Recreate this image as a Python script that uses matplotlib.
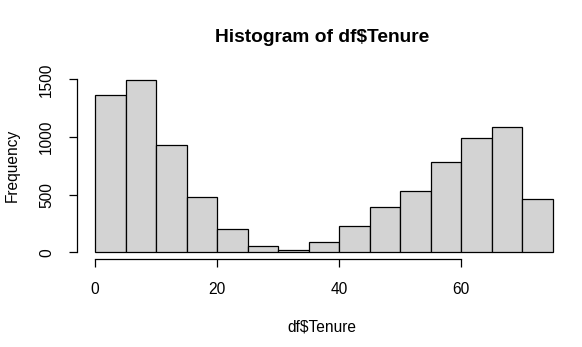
import numpy as np
import matplotlib.pyplot as plt

plt.rcParams['font.family'] = ['Liberation Sans', 'DejaVu Sans']

# histogram of tenure, bins of width 5
binEdges = [0, 5, 10, 15, 20, 25, 30, 35, 40, 45, 50, 55, 60, 65, 70, 75]
counts = [1361, 1491, 928, 476, 205, 59, 17, 88, 225, 390, 528, 780, 988, 1086, 459]
xTicks = [0, 20, 40, 60]
yTicks = [0, 500, 1000, 1500]

fig = plt.figure(figsize=(5.82, 3.47), dpi=100)
ax = fig.add_axes([0.1318, 0.2530, 0.8497, 0.5352])

widths = np.diff(binEdges)
ax.bar(binEdges[:-1], counts, width=widths, align='edge',
       color='#d3d3d3', edgecolor='black', linewidth=0.9)

ax.set_xlim(-3, 78)
ax.set_ylim(-0.04 * max(counts), max(counts) * 1.04)

for s in ['top', 'right']:
    ax.spines[s].set_visible(False)
ax.spines['left'].set_bounds(0, 1500)
ax.spines['bottom'].set_bounds(0, 60)
ax.spines['left'].set_linewidth(0.9)
ax.spines['bottom'].set_linewidth(0.9)

ax.set_xticks(xTicks)
ax.set_yticks(yTicks)
ax.set_yticklabels([str(v) for v in yTicks], rotation=90, va='center')
ax.tick_params(axis='both', direction='out', length=6.1, width=0.9,
               labelsize=11.2, color='black')
ax.tick_params(axis='x', pad=10)
ax.tick_params(axis='y', pad=10)

fig.text(0.553, 1 - 37 / 347, 'Histogram of df$Tenure', ha='center', va='center',
         fontsize=13.8, fontweight='bold')
fig.text(0.553, 1 - 327 / 347, 'df$Tenure', ha='center', va='center', fontsize=11.2)
fig.text(12 / 582, 1 - 165 / 347, 'Frequency', ha='center', va='center',
         rotation=90, fontsize=11.2)

fig.savefig('out.png', dpi=100)
